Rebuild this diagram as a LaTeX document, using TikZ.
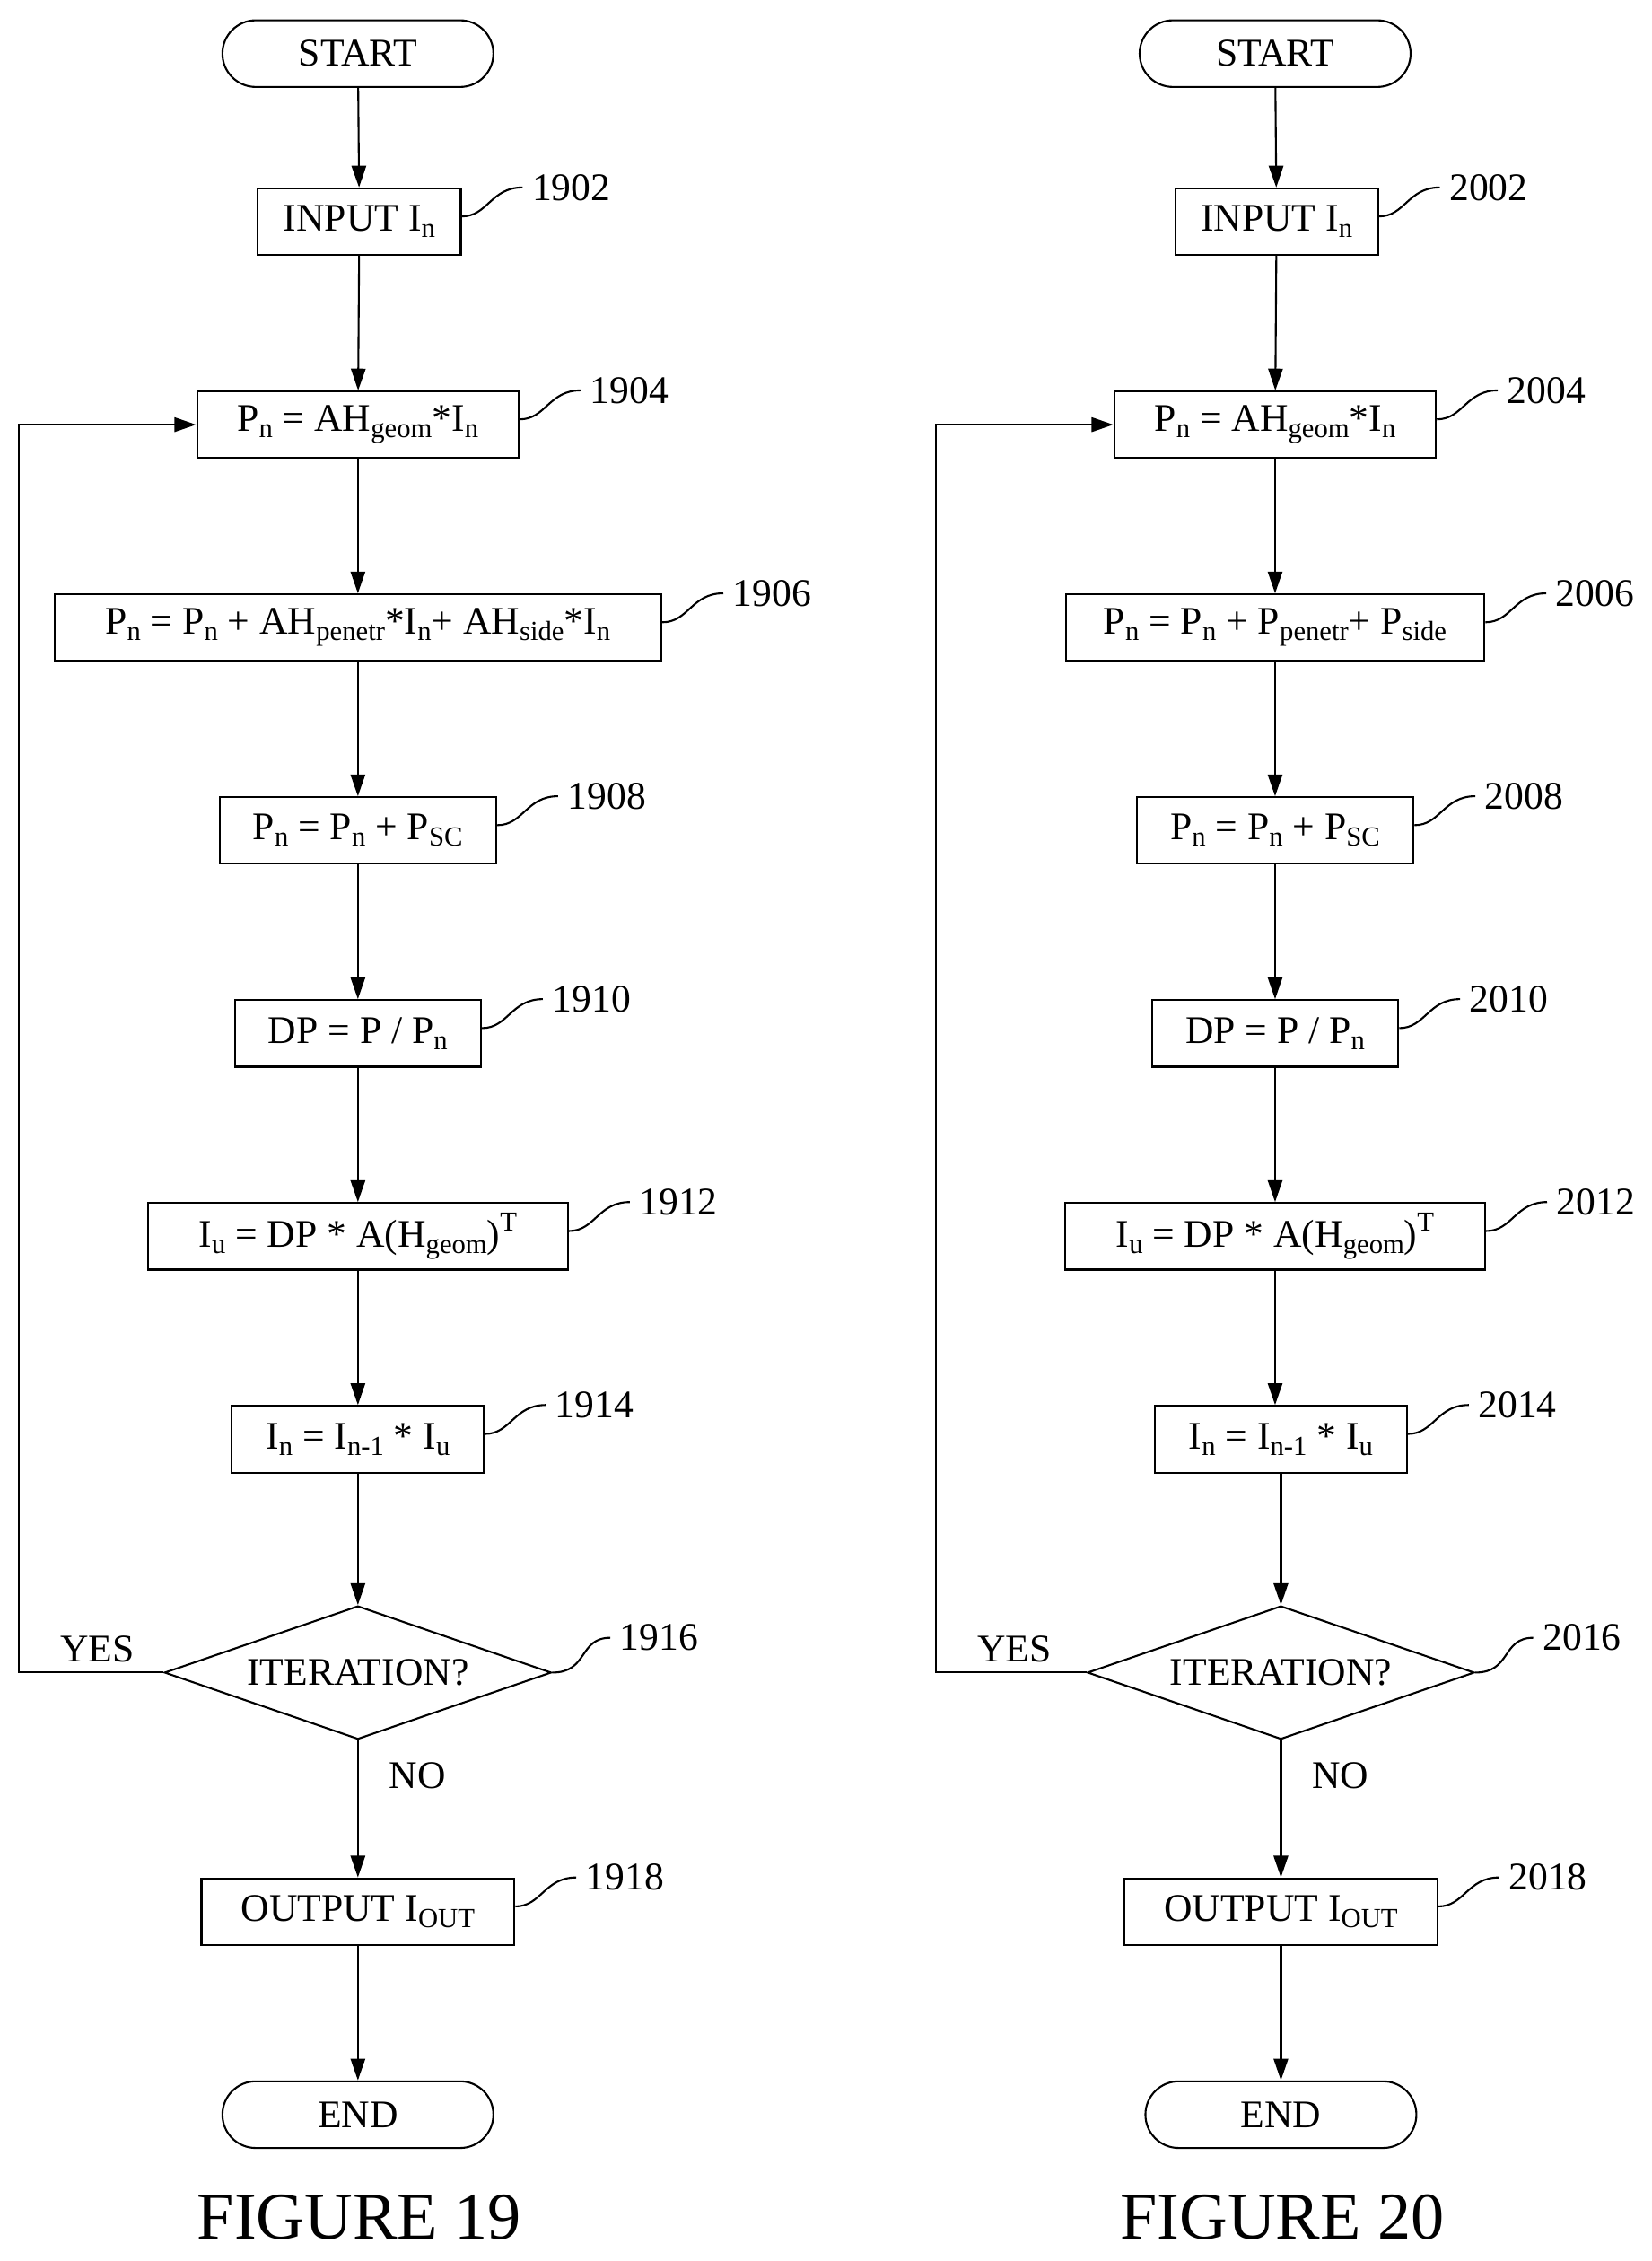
\documentclass[tikz,border=0pt]{standalone}
\usepackage{fontspec}
\setmainfont{Liberation Serif}
\usetikzlibrary{shapes.geometric,shapes.misc,arrows.meta,calc}
\newcommand{\sbs}[1]{\raisebox{-0.35ex}{\fontsize{19}{19}\selectfont #1}}
\newcommand{\sps}[1]{\raisebox{0.9ex}{\fontsize{19}{19}\selectfont #1}}
\begin{document}
\begin{tikzpicture}[x=1pt,y=-1pt,line width=1.3pt,
  every node/.style={font=\fontsize{27}{30}\selectfont},
  box/.style={draw,rectangle,minimum height=46pt,inner sep=0pt},
  term/.style={draw,rounded rectangle,minimum width=187pt,minimum height=46pt,inner sep=0pt},
  dia/.style={draw,diamond,aspect=2.9,minimum width=267pt,minimum height=92pt,inner sep=0pt},
  arr/.style={-{Triangle[length=15pt,width=10pt]}},
  num/.style={anchor=west,inner sep=0pt}]
\useasboundingbox (0,0) rectangle (1140,1560);
\newcommand{\lead}[2]{%
  \draw ($(#1.north east)+(0,20)$) .. controls +(18,0) and +(-22,0) .. ($(#1.north east)+(42,0)$) coordinate (tmp);
  \node[num] at ($(tmp)+(6,0)$) {#2};}
\newcommand{\chart}[4]{% xshift, xlow, width, fig
\begin{scope}[xshift=#1]
\node[term] (s) at (247,37) {START};
\node[box,minimum width=140pt] (a) at (248,153) {INPUT I\sbs{n}};
\node[box,minimum width=222pt] (b) at (247,293) {P\sbs{n} = AH\sbs{geom}*I\sbs{n}};
\node[box,minimum width=#3pt] (c) at (247,433) {\csname t#4\endcsname};
\node[box,minimum width=191pt] (d) at (247,573) {P\sbs{n} = P\sbs{n} + P\sbs{SC}};
\node[box,minimum width=170pt] (e) at (247,713) {DP = P / P\sbs{n}};
\node[box,minimum width=290pt] (f) at (247,853) {I\sbs{u} = DP * A(H\sbs{geom})\sps{T}};
\node[box,minimum width=174pt] (g) at (247+#2,993) {I\sbs{n} = I\sbs{n-1} * I\sbs{u}};
\node[dia] (h) at (247+#2,1154) {ITERATION?};
\node[box,minimum width=216pt] (i) at (247+#2,1319) {OUTPUT I\sbs{OUT}};
\node[term] (j) at (247+#2,1459) {END};
\coordinate (lp) at (13,0);
\draw[arr] (s) -- (a);
\draw[arr] (a) -- (b);
\draw[arr] (b) -- (c);
\draw[arr] (c) -- (d);
\draw[arr] (d) -- (e);
\draw[arr] (e) -- (f);
\draw[arr] (f.south) -- (f.south |- g.north);
\draw[arr] (g) -- (h);
\draw[arr] (h) -- (i);
\draw[arr] (i) -- (j);
\draw[arr] (h.west) -- (h.west -| lp) |- (b.west);
\node at (67,1138) {YES};
\node at (288+#2,1225) {NO};
\node[font=\fontsize{46}{50}\selectfont] (fig) at (248+#2,1530) {FIGURE #4};
\lead{a}{\csname n#4\endcsname02}
\lead{b}{\csname n#4\endcsname04}
\lead{c}{\csname n#4\endcsname06}
\lead{d}{\csname n#4\endcsname08}
\lead{e}{\csname n#4\endcsname10}
\lead{f}{\csname n#4\endcsname12}
\lead{g}{\csname n#4\endcsname14}
\draw (h.east) .. controls +(25,0) and +(-22,0) .. ($(h.east)+(40,-24)$) coordinate (tmp);
\node[num] at ($(tmp)+(6,0)$) {\csname n#4\endcsname16};
\lead{i}{\csname n#4\endcsname18}
\end{scope}}
\expandafter\def\csname t19\endcsname{P\sbs{n} = P\sbs{n} + AH\sbs{penetr}*I\sbs{n}+ AH\sbs{side}*I\sbs{n}}
\expandafter\def\csname t20\endcsname{P\sbs{n} = P\sbs{n} + P\sbs{penetr}+ P\sbs{side}}
\expandafter\def\csname n19\endcsname{19}
\expandafter\def\csname n20\endcsname{20}
\chart{0}{0}{419}{19}
\chart{633}{4}{289}{20}
\end{tikzpicture}
\end{document}
